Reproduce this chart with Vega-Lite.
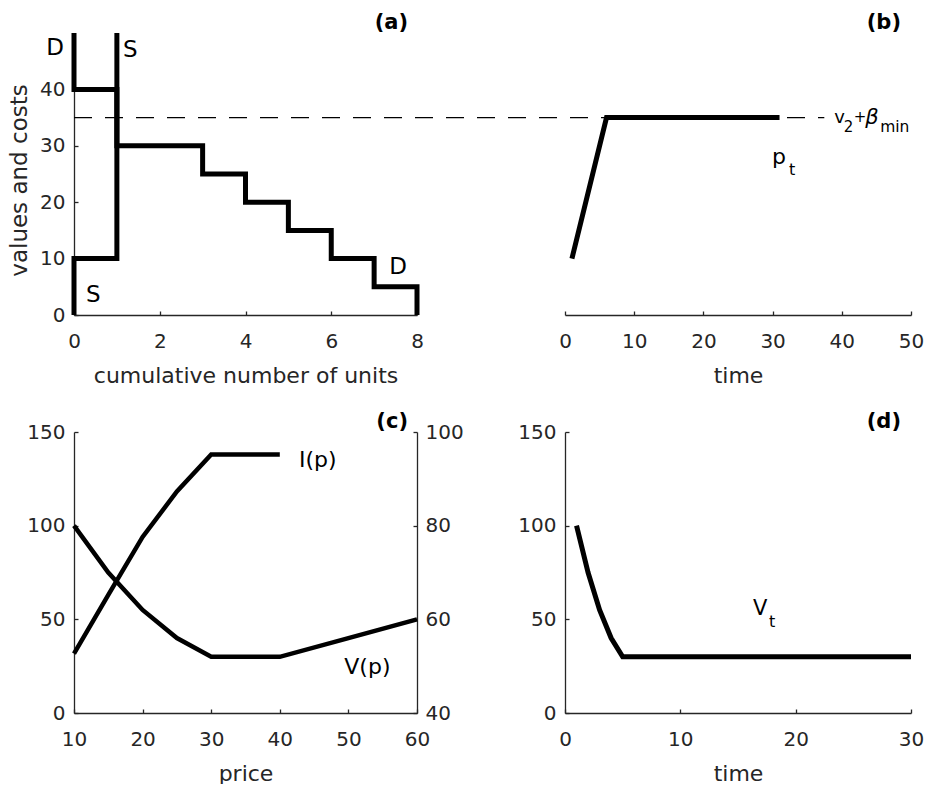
{
  "$schema": "https://vega.github.io/schema/vega-lite/v6.json",
  "padding": {"left": 8, "top": 12, "right": 0, "bottom": 0},
  "autosize": {"type": "pad"},
  "bounds": "flush",
  "columns": 2,
  "spacing": {"row": 117, "column": 148},
  "config": {
    "view": {"stroke": null},
    "font": "DejaVu Sans",
    "axis": {
      "domainColor": "#262626", "domainWidth": 1.3,
      "tickColor": "#262626", "tickWidth": 1.3, "tickSize": -4,
      "labelColor": "#262626", "labelFont": "DejaVu Sans", "labelFontSize": 20,
      "labelFlush": false, "labelOverlap": false, "labelBound": false,
      "titleFont": "DejaVu Sans", "titleFontSize": 22, "titleFontWeight": "normal", "titleColor": "#262626",
      "grid": false
    },
    "axisX": {"labelPadding": 20, "titleY": 67, "titleBaseline": "alphabetic"},
    "axisY": {"labelPadding": 13},
    "text": {"font": "DejaVu Sans", "color": "black", "align": "left", "baseline": "alphabetic"}
  },
  "concat": [
    {
      "width": 343, "height": 282,
      "layer": [
        {
          "data": {"values": [{"from": 0, "to": 17.5, "level": 35}]},
          "mark": {"type": "rule", "strokeDash": [18, 13], "strokeWidth": 1.3, "color": "black", "clip": false},
          "encoding": {
            "x": {"field": "from", "type": "quantitative", "scale": {"domain": [0, 8], "nice": false},
                  "axis": {"values": [0, 2, 4, 6, 8], "title": "cumulative number of units"}},
            "x2": {"field": "to"},
            "y": {"field": "level", "type": "quantitative", "scale": {"domain": [0, 50], "nice": false},
                  "axis": {"values": [0, 10, 20, 30, 40], "title": "values and costs", "titleX": -48, "titleY": 147, "titleBaseline": "alphabetic", "titleAngle": 270, "titleAlign": "center", "titleFontSize": 23}}
          }
        },
        {
          "data": {"values": [
            {"curve": "D", "i": 1, "units": 0, "value": 50},
            {"curve": "D", "i": 2, "units": 0, "value": 40},
            {"curve": "D", "i": 3, "units": 1, "value": 40},
            {"curve": "D", "i": 4, "units": 1, "value": 30},
            {"curve": "D", "i": 5, "units": 3, "value": 30},
            {"curve": "D", "i": 6, "units": 3, "value": 25},
            {"curve": "D", "i": 7, "units": 4, "value": 25},
            {"curve": "D", "i": 8, "units": 4, "value": 20},
            {"curve": "D", "i": 9, "units": 5, "value": 20},
            {"curve": "D", "i": 10, "units": 5, "value": 15},
            {"curve": "D", "i": 11, "units": 6, "value": 15},
            {"curve": "D", "i": 12, "units": 6, "value": 10},
            {"curve": "D", "i": 13, "units": 7, "value": 10},
            {"curve": "D", "i": 14, "units": 7, "value": 5},
            {"curve": "D", "i": 15, "units": 8, "value": 5},
            {"curve": "D", "i": 16, "units": 8, "value": 0},
            {"curve": "S", "i": 1, "units": 0, "value": 0},
            {"curve": "S", "i": 2, "units": 0, "value": 10},
            {"curve": "S", "i": 3, "units": 1, "value": 10},
            {"curve": "S", "i": 4, "units": 1, "value": 50}
          ]},
          "mark": {"type": "line", "strokeWidth": 5, "color": "black", "strokeJoin": "miter", "strokeCap": "butt", "clip": false},
          "encoding": {
            "x": {"field": "units", "type": "quantitative", "scale": {"domain": [0, 8], "nice": false}},
            "y": {"field": "value", "type": "quantitative", "scale": {"domain": [0, 50], "nice": false}},
            "detail": {"field": "curve"},
            "order": {"field": "i", "type": "quantitative"}
          }
        },
        {
          "data": {"values": [
            {"label": "D", "units": -0.65, "value": 46.1},
            {"label": "S", "units": 1.14, "value": 45.7},
            {"label": "S", "units": 0.28, "value": 2.3},
            {"label": "D", "units": 7.35, "value": 7.3}
          ]},
          "mark": {"type": "text", "fontSize": 23, "clip": false},
          "encoding": {
            "x": {"field": "units", "type": "quantitative", "scale": {"domain": [0, 8], "nice": false}},
            "y": {"field": "value", "type": "quantitative", "scale": {"domain": [0, 50], "nice": false}},
            "text": {"field": "label"}
          }
        },
        {
          "data": {"values": [{"label": "(a)", "units": 8, "value": 50}]},
          "mark": {"type": "text", "fontSize": 21, "fontWeight": "bold", "align": "right", "dx": -9, "dy": -4, "clip": false},
          "encoding": {
            "x": {"field": "units", "type": "quantitative", "scale": {"domain": [0, 8], "nice": false}},
            "y": {"field": "value", "type": "quantitative", "scale": {"domain": [0, 50], "nice": false}},
            "text": {"field": "label"}
          }
        }
      ]
    },
    {
      "width": 346, "height": 282,
      "layer": [
        {
          "data": {"values": [{"t": 1, "p": 10}, {"t": 6, "p": 35}, {"t": 31, "p": 35}]},
          "mark": {"type": "line", "strokeWidth": 5, "color": "black", "strokeJoin": "miter", "strokeCap": "butt", "clip": false},
          "encoding": {
            "x": {"field": "t", "type": "quantitative", "scale": {"domain": [0, 50], "nice": false},
                  "axis": {"values": [0, 10, 20, 30, 40, 50], "title": "time"}},
            "y": {"field": "p", "type": "quantitative", "scale": {"domain": [0, 50], "nice": false}, "axis": null}
          }
        },
        {
          "data": {"values": [{"t": 29.9, "p": 26.8, "main": "p", "sub": "t"}]},
          "encoding": {
            "x": {"field": "t", "type": "quantitative", "scale": {"domain": [0, 50], "nice": false}},
            "y": {"field": "p", "type": "quantitative", "scale": {"domain": [0, 50], "nice": false}}
          },
          "layer": [
            {"mark": {"type": "text", "fontSize": 22, "clip": false}, "encoding": {"text": {"field": "main"}}},
            {"mark": {"type": "text", "fontSize": 16, "dx": 17, "dy": 11, "clip": false}, "encoding": {"text": {"field": "sub"}}}
          ]
        },
        {
          "data": {"values": [{"t": 38.9, "p": 35, "v": "v", "two": "2", "plus": "+", "beta": "β", "min": "min"}]},
          "encoding": {
            "x": {"field": "t", "type": "quantitative", "scale": {"domain": [0, 50], "nice": false}},
            "y": {"field": "p", "type": "quantitative", "scale": {"domain": [0, 50], "nice": false}}
          },
          "layer": [
            {"mark": {"type": "text", "fontSize": 18, "dx": 0, "dy": 5.5, "clip": false}, "encoding": {"text": {"field": "v"}}},
            {"mark": {"type": "text", "fontSize": 15, "dx": 9.5, "dy": 14.4, "clip": false}, "encoding": {"text": {"field": "two"}}},
            {"mark": {"type": "text", "fontSize": 15, "dx": 19.5, "dy": 4.7, "clip": false}, "encoding": {"text": {"field": "plus"}}},
            {"mark": {"type": "text", "fontSize": 21, "fontStyle": "italic", "dx": 31, "dy": 6.4, "clip": false}, "encoding": {"text": {"field": "beta"}}},
            {"mark": {"type": "text", "fontSize": 15.5, "dx": 46, "dy": 14.4, "clip": false}, "encoding": {"text": {"field": "min"}}}
          ]
        },
        {
          "data": {"values": [{"label": "(b)", "t": 50, "p": 50}]},
          "mark": {"type": "text", "fontSize": 21, "fontWeight": "bold", "align": "right", "dx": -10, "dy": -4, "clip": false},
          "encoding": {
            "x": {"field": "t", "type": "quantitative", "scale": {"domain": [0, 50], "nice": false}},
            "y": {"field": "p", "type": "quantitative", "scale": {"domain": [0, 50], "nice": false}},
            "text": {"field": "label"}
          }
        }
      ]
    },
    {
      "width": 343, "height": 281,
      "resolve": {"scale": {"y": "independent"}},
      "layer": [
        {
          "layer": [
            {
              "data": {"values": [
                {"price": 10, "V": 100}, {"price": 15, "V": 75}, {"price": 20, "V": 55},
                {"price": 25, "V": 40}, {"price": 30, "V": 30}, {"price": 35, "V": 30},
                {"price": 40, "V": 30}, {"price": 50, "V": 40}, {"price": 60, "V": 50}
              ]},
              "mark": {"type": "line", "strokeWidth": 4.5, "color": "black", "strokeJoin": "miter", "clip": false},
              "encoding": {
                "x": {"field": "price", "type": "quantitative", "scale": {"domain": [10, 60], "nice": false},
                      "axis": {"values": [10, 20, 30, 40, 50, 60], "title": "price"}},
                "y": {"field": "V", "type": "quantitative", "scale": {"domain": [0, 150], "nice": false},
                      "axis": {"values": [0, 50, 100, 150], "title": null}}
              }
            },
            {
              "data": {"values": [
                {"label": "I(p)", "price": 42.8, "V": 131.5},
                {"label": "V(p)", "price": 49.4, "V": 21}
              ]},
              "mark": {"type": "text", "fontSize": 22, "clip": false},
              "encoding": {
                "x": {"field": "price", "type": "quantitative", "scale": {"domain": [10, 60], "nice": false}},
                "y": {"field": "V", "type": "quantitative", "scale": {"domain": [0, 150], "nice": false}},
                "text": {"field": "label"}
              }
            },
            {
              "data": {"values": [{"label": "(c)", "price": 60, "V": 150}]},
              "mark": {"type": "text", "fontSize": 21, "fontWeight": "bold", "align": "right", "dx": -9, "dy": -4, "clip": false},
              "encoding": {
                "x": {"field": "price", "type": "quantitative", "scale": {"domain": [10, 60], "nice": false}},
                "y": {"field": "V", "type": "quantitative", "scale": {"domain": [0, 150], "nice": false}},
                "text": {"field": "label"}
              }
            }
          ]
        },
        {
          "data": {"values": [
            {"price": 10, "I": 52.7}, {"price": 15, "I": 65.2}, {"price": 20, "I": 77.6},
            {"price": 25, "I": 87.3}, {"price": 30, "I": 95.2}, {"price": 35, "I": 95.2},
            {"price": 40, "I": 95.2}
          ]},
          "mark": {"type": "line", "strokeWidth": 4.5, "color": "black", "strokeJoin": "miter", "clip": false},
          "encoding": {
            "x": {"field": "price", "type": "quantitative", "scale": {"domain": [10, 60], "nice": false}},
            "y": {"field": "I", "type": "quantitative", "scale": {"domain": [40, 100], "nice": false},
                  "axis": {"orient": "right", "values": [40, 60, 80, 100], "title": null, "labelPadding": 12}}
          }
        }
      ]
    },
    {
      "width": 346, "height": 281,
      "layer": [
        {
          "data": {"values": [
            {"t": 1, "V": 100}, {"t": 2, "V": 75}, {"t": 3, "V": 55}, {"t": 4, "V": 40}, {"t": 5, "V": 30},
            {"t": 6, "V": 30}, {"t": 7, "V": 30}, {"t": 8, "V": 30}, {"t": 9, "V": 30}, {"t": 10, "V": 30},
            {"t": 11, "V": 30}, {"t": 12, "V": 30}, {"t": 13, "V": 30}, {"t": 14, "V": 30}, {"t": 15, "V": 30},
            {"t": 16, "V": 30}, {"t": 17, "V": 30}, {"t": 18, "V": 30}, {"t": 19, "V": 30}, {"t": 20, "V": 30},
            {"t": 21, "V": 30}, {"t": 22, "V": 30}, {"t": 23, "V": 30}, {"t": 24, "V": 30}, {"t": 25, "V": 30},
            {"t": 26, "V": 30}, {"t": 27, "V": 30}, {"t": 28, "V": 30}, {"t": 29, "V": 30}, {"t": 30, "V": 30}
          ]},
          "mark": {"type": "line", "strokeWidth": 5, "color": "black", "strokeJoin": "miter", "clip": false},
          "encoding": {
            "x": {"field": "t", "type": "quantitative", "scale": {"domain": [0, 30], "nice": false},
                  "axis": {"values": [0, 10, 20, 30], "title": "time"}},
            "y": {"field": "V", "type": "quantitative", "scale": {"domain": [0, 150], "nice": false},
                  "axis": {"values": [0, 50, 100, 150], "title": null}}
          }
        },
        {
          "data": {"values": [{"t": 16.3, "V": 52.3, "main": "V", "sub": "t"}]},
          "encoding": {
            "x": {"field": "t", "type": "quantitative", "scale": {"domain": [0, 30], "nice": false}},
            "y": {"field": "V", "type": "quantitative", "scale": {"domain": [0, 150], "nice": false}}
          },
          "layer": [
            {"mark": {"type": "text", "fontSize": 21, "clip": false}, "encoding": {"text": {"field": "main"}}},
            {"mark": {"type": "text", "fontSize": 16, "dx": 16, "dy": 12, "clip": false}, "encoding": {"text": {"field": "sub"}}}
          ]
        },
        {
          "data": {"values": [{"label": "(d)", "t": 30, "V": 150}]},
          "mark": {"type": "text", "fontSize": 21, "fontWeight": "bold", "align": "right", "dx": -10, "dy": -4, "clip": false},
          "encoding": {
            "x": {"field": "t", "type": "quantitative", "scale": {"domain": [0, 30], "nice": false}},
            "y": {"field": "V", "type": "quantitative", "scale": {"domain": [0, 150], "nice": false}},
            "text": {"field": "label"}
          }
        }
      ]
    }
  ]
}
